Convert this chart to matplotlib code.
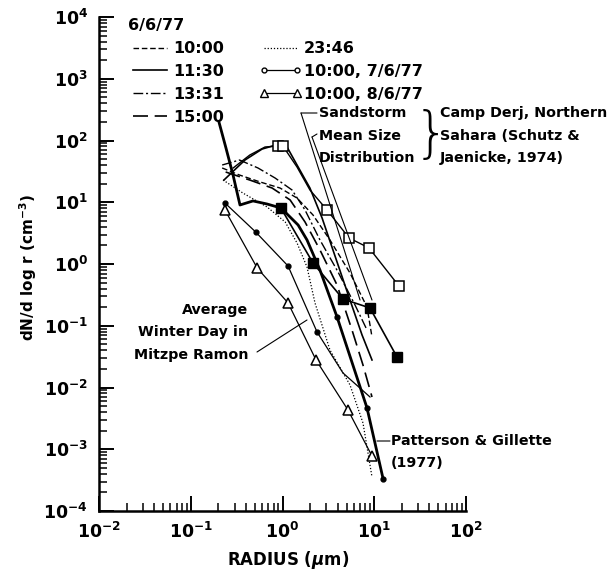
import matplotlib
matplotlib.use("Agg")

import matplotlib.pyplot as plt
from matplotlib.lines import Line2D
from matplotlib.ticker import LogLocator, NullFormatter

plt.rcParams["font.family"] = ["DejaVu Sans"]
plt.rcParams["font.weight"] = "bold"

# ── data: radius (um) vs dN/dlog r (cm^-3) ──────────────────────────
r_1000 = [0.22, 0.34, 0.57, 0.94, 1.44, 2.15, 3.29, 5.44, 8.34, 9.45]
n_1000 = [35.9, 27.6, 21.3, 17.0, 11.7, 6.22, 2.45, 0.715, 0.201, 0.0657]

r_1130 = [0.23, 0.39, 0.60, 0.85, 1.12, 1.44, 1.99, 2.70, 3.93, 5.44, 7.36, 9.45]
n_1130 = [22.9, 48.3, 72.8, 84.6, 78.5, 40.1, 17.0, 5.56, 1.08, 0.261, 0.0709, 0.0279]

r_1331 = [0.22, 0.34, 0.54, 0.83, 1.27, 1.76, 2.56, 4.03, 6.17, 8.34]
n_1331 = [40.1, 48.3, 35.9, 24.7, 15.8, 7.49, 2.45, 0.742, 0.217, 0.0854]

r_1500 = [0.24, 0.44, 0.77, 1.21, 1.76, 2.56, 3.93, 5.72, 7.54, 9.45]
n_1500 = [30.9, 22.9, 17.0, 10.9, 4.79, 1.69, 0.457, 0.0854, 0.0231, 0.00702]

r_2346 = [0.225, 0.37, 0.68, 1.07, 1.44, 1.85, 2.26, 3.29, 5.44, 7.54, 9.45]
n_2346 = [22.9, 14.1, 8.38, 4.79, 2.19, 0.894, 0.234, 0.0405, 0.0110, 0.00266, 0.000355]

r_0706 = [0.236, 0.51, 1.15, 2.38, 4.56, 8.99]
n_0706 = [9.72, 3.30, 0.928, 0.0792, 0.0172, 0.00702]

r_0806 = [0.236, 0.53, 1.15, 2.32, 5.17, 9.45]
n_0806 = [7.49, 0.861, 0.234, 0.0279, 0.00432, 0.000777]

# Camp Derj (Schutz & Jaenicke, 1974)
r_storm = [0.29, 0.44, 0.645, 0.89, 1.01, 1.44, 1.99, 3.06, 5.31, 8.77, 18.6]
n_storm = [35.9, 58.2, 78.5, 81.4, 81.4, 37.2, 15.8, 7.49, 2.64, 1.82, 0.44]
storm_marks = [3, 4, 7, 8, 9, 10]

r_mean = [0.96, 2.15, 4.56, 8.99, 17.7]
n_mean = [8.07, 1.04, 0.271, 0.194, 0.0312]

# Patterson & Gillette (1977)
r_pg = [0.203, 0.242, 0.289, 0.344, 0.477, 0.678, 0.963, 1.48, 1.85, 2.56, 3.93, 8.34, 12.5]
n_pg = [199, 75.6, 27.6, 9.03, 10.5, 9.37, 8.07, 4.28, 2.45, 0.799, 0.139, 0.00466, 0.00033]
pg_marks = [10, 11, 12]

W, H = 613, 581
fig = plt.figure(figsize=(W / 100, H / 100), dpi=100)
fig.patch.set_facecolor("white")
ax = fig.add_axes([99 / W, 70 / H, 367 / W, 494 / H])


def ftext(x, y, s, **kw):
    """text placed in figure pixels (origin top-left)"""
    kw.setdefault("fontsize", 10.3)
    kw.setdefault("va", "center")
    return fig.text(x / W, 1 - y / H, s, **kw)


def fpos(x, y):
    return (x / W, 1 - y / H)


K = "black"
ax.plot(r_1000, n_1000, color=K, lw=1.0, dashes=(4, 2))
ax.plot(r_1130, n_1130, color=K, lw=1.2)
ax.plot(r_1331, n_1331, color=K, lw=1.0, dashes=(7, 2, 1.5, 2))
ax.plot(r_1500, n_1500, color=K, lw=1.2, dashes=(9, 4))
ax.plot(r_2346, n_2346, color=K, lw=0.9, dashes=(1, 1.5))
ax.plot(r_0706, n_0706, color=K, lw=0.9, marker="o", ms=3.5, markevery=[0, 1, 2, 3])
ax.plot(r_0806, n_0806, color=K, lw=0.9, marker="^", ms=7, mfc="white", mew=1.1)
ax.plot(r_storm, n_storm, color=K, lw=1.0, marker="s", ms=6.5, mfc="white",
        mew=1.1, markevery=storm_marks)
ax.plot(r_mean, n_mean, color=K, lw=1.2, marker="s", ms=6.5)
ax.plot(r_pg, n_pg, color=K, lw=2.0, marker="o", ms=3.5, markevery=pg_marks)

ax.set_xscale("log")
ax.set_yscale("log")
ax.set_xlim(1e-2, 1e2)
ax.set_ylim(1e-4, 1e4)
for side in ("top", "right"):
    ax.spines[side].set_visible(False)
for side in ("left", "bottom"):
    ax.spines[side].set_linewidth(1.8)
ax.xaxis.set_minor_locator(LogLocator(base=10, subs=range(2, 10), numticks=20))
ax.yaxis.set_minor_locator(LogLocator(base=10, subs=range(2, 10), numticks=20))
ax.xaxis.set_minor_formatter(NullFormatter())
ax.yaxis.set_minor_formatter(NullFormatter())
ax.tick_params(which="major", direction="in", length=11, width=1.4,
               labelsize=12.5, pad=8)
ax.tick_params(which="minor", direction="in", length=6, width=1.1)

ftext(28, 268, r"dN/d log r (cm$^{-3}$)", rotation=90, ha="center", fontsize=11)
ftext(288, 560, r"RADIUS ($\mu$m)", ha="center", fontsize=12)

# ── legend ─────────────────────────────────────────────────────────
handles = [
    Line2D([], [], color=K, lw=1.0, dashes=(4, 2)),
    Line2D([], [], color=K, lw=1.2),
    Line2D([], [], color=K, lw=1.0, dashes=(7, 2, 1.5, 2)),
    Line2D([], [], color=K, lw=1.2, dashes=(9, 4)),
    Line2D([], [], color=K, lw=0.9, dashes=(1, 1.5)),
    Line2D([], [], color=K, lw=0.9, marker="o", ms=3.5, mfc="white"),
    Line2D([], [], color=K, lw=0.9, marker="^", ms=5.5, mfc="white"),
]
labels = ["10:00", "11:30", "13:31", "15:00", "23:46",
          "10:00, 7/6/77", "10:00, 8/6/77"]
leg = ax.legend(handles, labels, ncol=2, loc="upper left",
                bbox_to_anchor=fpos(122, 12), bbox_transform=fig.transFigure,
                title="6/6/77", alignment="left", frameon=False,
                prop={"size": 11.5, "weight": "bold"},
                title_fontproperties={"size": 11.5, "weight": "bold"},
                handlelength=2.7, handletextpad=0.1, labelspacing=0.49,
                columnspacing=2.2, numpoints=2, borderaxespad=0)

# ── annotations ────────────────────────────────────────────────────
ftext(319, 113, "Sandstorm")
ftext(319, 136, "Mean Size")
ftext(319, 158, "Distribution")
ftext(431, 136, "}", fontsize=40, fontweight="light", ha="center")
ftext(440, 113, "Camp Derj, Northern")
ftext(440, 136, "Sahara (Schutz &")
ftext(440, 158, "Jaenicke, 1974)")
ftext(248, 310, "Average", ha="right")
ftext(248, 332, "Winter Day in", ha="right")
ftext(248, 355, "Mitzpe Ramon", ha="right")
ftext(391, 441, "Patterson & Gillette", ha="left")
ftext(391, 463, "(1977)", ha="left")

lead = dict(arrowstyle="-", lw=0.8, color=K, shrinkA=0, shrinkB=0)
ax.annotate("", xy=(7.0, 0.261), xytext=fpos(301, 113),
            textcoords="figure fraction", arrowprops=lead)
ax.annotate("", xy=fpos(301, 113), xycoords="figure fraction",
            xytext=fpos(317, 113), textcoords="figure fraction", arrowprops=lead)
ax.annotate("", xy=(9.45, 0.261), xytext=fpos(312, 137),
            textcoords="figure fraction", arrowprops=lead)
ax.annotate("", xy=fpos(312, 137), xycoords="figure fraction",
            xytext=fpos(317, 134), textcoords="figure fraction", arrowprops=lead)
ax.annotate("", xy=(1.85, 0.124), xytext=fpos(257, 352),
            textcoords="figure fraction", arrowprops=lead)
ax.annotate("", xy=(10.7, 0.00136), xytext=fpos(390, 441),
            textcoords="figure fraction", arrowprops=lead)

fig.savefig("out.png", dpi=100, facecolor="white")
